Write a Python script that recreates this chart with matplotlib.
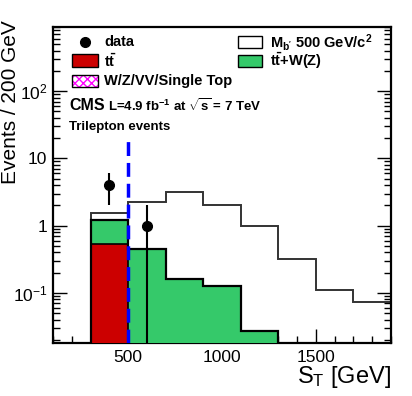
import numpy as np
import matplotlib
matplotlib.use("Agg")
import matplotlib.pyplot as plt
from matplotlib.patches import Rectangle
from matplotlib.ticker import FixedLocator, FixedFormatter, MultipleLocator, LogLocator, NullFormatter

plt.rcParams['font.family'] = ['Liberation Sans', 'DejaVu Sans']
plt.rcParams['mathtext.fontset'] = 'custom'
plt.rcParams['mathtext.rm'] = 'Liberation Sans'
plt.rcParams['mathtext.it'] = 'Liberation Sans:italic'
plt.rcParams['mathtext.bf'] = 'Liberation Sans:bold'

# ---- data ----
bin_edges = [300, 500, 700, 900, 1100, 1300, 1500, 1700, 1900]
ttbar = [0.53, 0, 0, 0, 0, 0, 0, 0]
wzvv_single_top = [0, 0, 0, 0, 0, 0, 0, 0]
ttbar_wz = [0.70, 0.45, 0.16, 0.126, 0.027, 0, 0, 0]
mb500_stacked = [1.53, 2.28, 3.14, 2.06, 0.99, 0.318, 0.11, 0.073]
data_x = [400, 600]
data_y = [4, 1]
data_err = [2, 1]
cut_value = 500
cut_top = 20
ytick_vals = [0.1, 1, 10, 100]
ytick_labels = [r'$10^{-1}$', '1', '10', r'$10^{2}$']
xtick_vals = [500, 1000, 1500]

YMIN, YMAX = 0.018, 900

fig = plt.figure(figsize=(4.12, 3.96), dpi=100)
ax = fig.add_axes([53/412, 1-343/396, (391-53)/412, (343-27)/396])
ax.set_yscale('log')
ax.set_xlim(100, 1900)
ax.set_ylim(YMIN, YMAX)

edges = np.array(bin_edges, dtype=float)
base = np.full(len(ttbar), YMIN * 0.5)

# signal (stacked on background), outline
ax.stairs(mb500_stacked, edges, baseline=YMIN*0.5, color='#333333', lw=1.4, zorder=2)

# background stack
r = np.array(ttbar)
p = r + np.array(wzvv_single_top)
g = p + np.array(ttbar_wz)
r_plot = np.where(r > 0, r, YMIN*0.5)
p_plot = np.where(p > 0, p, YMIN*0.5)
g_plot = np.where(g > 0, g, YMIN*0.5)

ax.stairs(r_plot, edges, baseline=base, fill=True, color='#cc0000', zorder=3)
ax.stairs(p_plot, edges, baseline=r_plot, fill=True, facecolor='white', edgecolor='#ff00ff',
          hatch='xxxx', lw=0, zorder=3)
ax.stairs(g_plot, edges, baseline=p_plot, fill=True, color='#35c96a', zorder=3)
ax.stairs(r_plot, edges, baseline=YMIN*0.5, color='black', lw=1.2, zorder=4)
ax.stairs(g_plot, edges, baseline=YMIN*0.5, color='black', lw=1.6, zorder=4)

# cut line
ax.plot([cut_value, cut_value], [YMIN, cut_top], color='#0000ff', lw=2.5,
        dashes=(4, 2), zorder=5)

# data
dy = np.array(data_y, dtype=float)
de = np.array(data_err, dtype=float)
lower = np.minimum(de, dy - YMIN * 0.5)
ax.errorbar(data_x, dy, yerr=[lower, de], fmt='o', color='black', ms=7,
            elinewidth=1.5, capsize=0, zorder=6)

# ticks
ax.xaxis.set_major_locator(FixedLocator(xtick_vals))
ax.xaxis.set_minor_locator(MultipleLocator(100))
ax.yaxis.set_major_locator(FixedLocator(ytick_vals + [1000]))
ax.yaxis.set_major_formatter(FixedFormatter(ytick_labels + ['']))
ax.yaxis.set_minor_locator(LogLocator(base=10, subs=np.arange(2, 10)))
ax.yaxis.set_minor_formatter(NullFormatter())
ax.tick_params(which='both', direction='in', right=True, top=False, labelsize=12.5, width=1)
ax.tick_params(which='major', length=10)
ax.tick_params(which='minor', length=5)
ax.tick_params(axis='x', which='major', pad=5)
ax.tick_params(axis='y', which='major', pad=4)
for s in ax.spines.values():
    s.set_linewidth(1.6)

fig.text(11/412, 1-20/396, 'Events / 200 GeV', rotation=90, ha='center', va='top', fontsize=15)
fig.text(391/412, 1-377/396, r'S$_{\rm T}$ [GeV]', ha='right', va='center', fontsize=17)

# legend (manual)
def fx(x): return x/412
def fy(y): return 1-y/396
fs = 10.5
fig.add_artist(plt.Line2D([fx(85)], [fy(42)], marker='o', color='black', ms=7, transform=fig.transFigure))
fig.text(fx(104), fy(42), 'data', ha='left', va='center', fontsize=fs, fontweight='bold')
fig.add_artist(Rectangle((fx(72), fy(67)), fx(98)-fx(72), fy(54)-fy(67), transform=fig.transFigure,
                         facecolor='#cc0000', edgecolor='black', lw=1))
fig.text(fx(104), fy(61), r'$\mathbf{t\bar{t}}$', ha='left', va='center', fontsize=fs)
fig.add_artist(Rectangle((fx(72), fy(87)), fx(98)-fx(72), fy(75)-fy(87), transform=fig.transFigure,
                         facecolor='white', edgecolor='#ff00ff', hatch='xxxx', lw=0))
fig.add_artist(Rectangle((fx(72), fy(87)), fx(98)-fx(72), fy(75)-fy(87), transform=fig.transFigure,
                         facecolor='none', edgecolor='black', lw=1))
fig.text(fx(104), fy(81), 'W/Z/VV/Single Top', ha='left', va='center', fontsize=fs, fontweight='bold')
fig.add_artist(Rectangle((fx(238), fy(48)), fx(262)-fx(238), fy(36)-fy(48), transform=fig.transFigure,
                         facecolor='white', edgecolor='black', lw=1))
fig.text(fx(270), fy(42), r"$\mathbf{M_{b'}}$ 500 GeV/c$\mathbf{^2}$", ha='left', va='center',
         fontsize=fs, fontweight='bold')
fig.add_artist(Rectangle((fx(238), fy(67)), fx(262)-fx(238), fy(55)-fy(67), transform=fig.transFigure,
                         facecolor='#35c96a', edgecolor='black', lw=1))
fig.text(fx(270), fy(61), r'$\mathbf{t\bar{t}}$+W(Z)', ha='left', va='center', fontsize=fs, fontweight='bold')

fig.text(fx(69), fy(106), 'CMS', ha='left', va='center', fontsize=11.5, fontweight='bold')
fig.text(fx(108), fy(106), r'L=4.9 fb$\mathbf{^{-1}}$ at $\mathbf{\sqrt{s}}$ = 7 TeV', ha='left', va='center',
         fontsize=9.5, fontweight='bold')
fig.text(fx(69), fy(127), 'Trilepton events', ha='left', va='center', fontsize=9.5, fontweight='bold')

fig.savefig('out.png', dpi=100)
